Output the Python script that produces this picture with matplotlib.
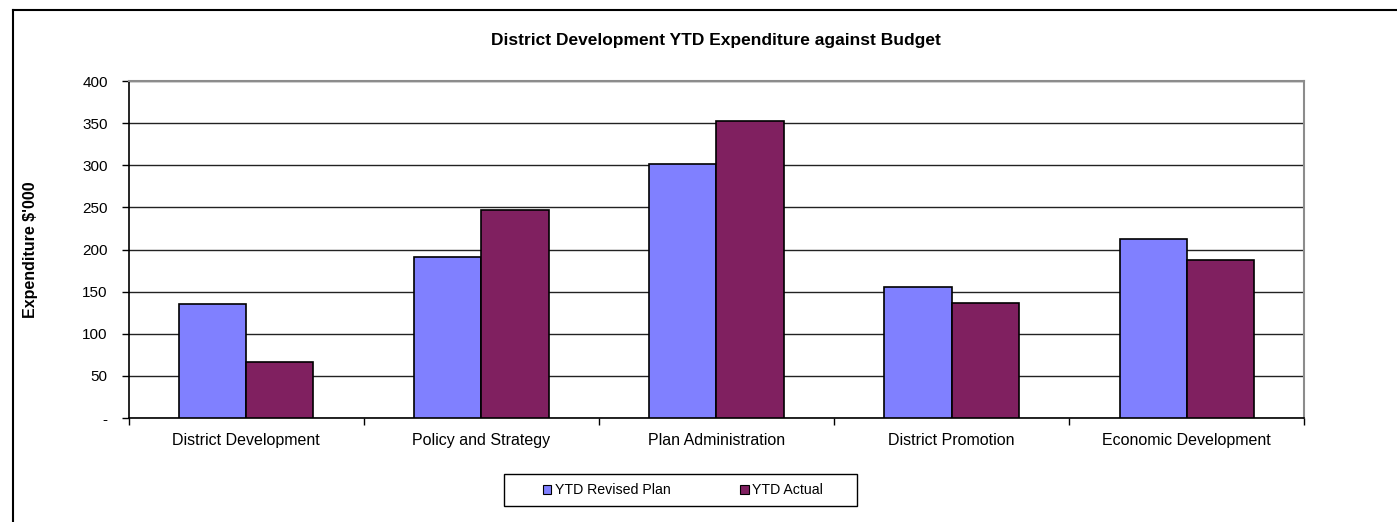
import matplotlib

matplotlib.use("Agg")

import matplotlib.pyplot as plt
import numpy as np
from matplotlib.lines import Line2D
from matplotlib.patches import Patch, Rectangle

plt.rcParams["font.family"] = ["Liberation Sans", "DejaVu Sans"]

categories = [
    "District Development",
    "Policy and Strategy",
    "Plan Administration",
    "District Promotion",
    "Economic Development",
]
ytd_revised_plan = [135, 191, 302, 156, 212]
ytd_actual = [66, 247, 353, 137, 187]
y_ticks = [0, 50, 100, 150, 200, 250, 300, 350, 400]
y_tick_labels = ["-", "50", "100", "150", "200", "250", "300", "350", "400"]

PLAN_COLOR = "#8080FF"
ACTUAL_COLOR = "#802060"
W, H = 1397, 522

fig = plt.figure(figsize=(W / 100, H / 100), dpi=100)
fig.patch.set_facecolor("white")
ax = fig.add_axes([0.0921, 0.1992, 0.8415, 0.6456])

x = np.arange(len(categories))
bar_w = 1 / 3.5  # gap width 150%
ax.bar(x - bar_w / 2, ytd_revised_plan, bar_w, color=PLAN_COLOR,
       edgecolor="black", linewidth=1.2, zorder=3)
ax.bar(x + bar_w / 2, ytd_actual, bar_w, color=ACTUAL_COLOR,
       edgecolor="black", linewidth=1.2, zorder=3)

ax.set_xlim(-0.5, len(categories) - 0.5)
ax.set_ylim(0, 400)
ax.set_yticks(y_ticks)
ax.set_yticklabels(y_tick_labels, fontsize=11)
ax.yaxis.grid(True, color="#222222", linewidth=1.0, zorder=0)
ax.tick_params(axis="y", direction="out", length=5, width=1, pad=10, color="black")

# category labels centred, ticks on category boundaries
ax.set_xticks(x)
ax.set_xticklabels(categories, fontsize=11.5)
ax.tick_params(axis="x", which="major", length=0, pad=11)
ax.set_xticks(np.arange(-0.5, len(categories)), minor=True)
ax.tick_params(axis="x", which="minor", direction="out", length=5, width=1, color="black")

for side in ("left", "bottom"):
    ax.spines[side].set_color("black")
    ax.spines[side].set_linewidth(1.2)
for side in ("top", "right"):
    ax.spines[side].set_color("#8c8c8c")
    ax.spines[side].set_linewidth(1.5)

ax.set_ylabel("Expenditure $'000", fontsize=11.5, fontweight="bold")
ax.yaxis.set_label_coords(-0.0775, 0.5)

fig.text(0.5126, 1 - 40 / H, "District Development YTD Expenditure against Budget",
         ha="center", va="center", fontsize=12.5, fontweight="bold")

# legend entries without frame, plus a wider box drawn around them
handles = [
    Patch(facecolor=PLAN_COLOR, edgecolor="black", linewidth=0.8, label="YTD Revised Plan"),
    Patch(facecolor=ACTUAL_COLOR, edgecolor="black", linewidth=0.8, label="YTD Actual"),
]
fig.legend(handles=handles, ncol=2, loc="center",
           bbox_to_anchor=(683 / W, 1 - 490 / H),
           frameon=False, fontsize=10.2,
           handlelength=0.6, handleheight=0.6, handletextpad=0.25,
           columnspacing=4.9, borderpad=0, borderaxespad=0)
fig.add_artist(Rectangle((504 / W, 1 - 506 / H), 353 / W, 32 / H,
                         transform=fig.transFigure, fill=False,
                         edgecolor="black", linewidth=1.0))

# outer chart-area border (left and top edges)
fig.add_artist(Line2D([13 / W, 13 / W], [0, 1 - 10 / H],
                      transform=fig.transFigure, color="black", linewidth=1.5))
fig.add_artist(Line2D([13 / W, 1], [1 - 10 / H, 1 - 10 / H],
                      transform=fig.transFigure, color="black", linewidth=1.5))

fig.savefig("out.png", dpi=100, facecolor="white")
